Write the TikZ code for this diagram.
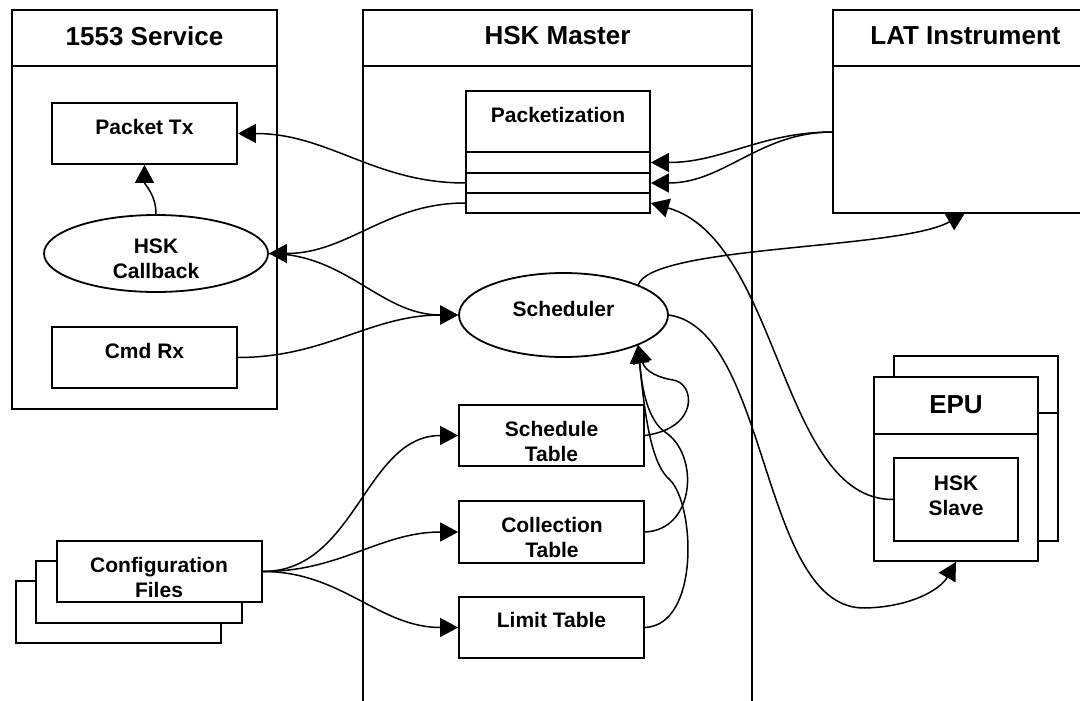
\documentclass[tikz,border=0pt]{standalone}
\usepackage{fontspec}
\setmainfont{Liberation Sans}
\usetikzlibrary{arrows.meta,shapes.geometric}
\begin{document}
\begin{tikzpicture}[x=1pt,y=-1pt,
  box/.style={draw, line width=1.8pt, rectangle, inner sep=0pt, fill=white},
  oval/.style={draw, line width=1.8pt, ellipse, inner sep=0pt, fill=white},
  frame/.style={line width=1.8pt},
  ttl/.style={inner sep=0pt, font=\fontsize{26}{30}\selectfont\bfseries},
  txt/.style={inner sep=0pt, align=center, font=\fontsize{21}{25}\selectfont\bfseries},
  conn/.style={draw, line width=1.5pt, -{Triangle[length=18pt,width=19pt]}}]
\useasboundingbox (0,0) rectangle (1080,701);
\fill[white] (0,0) rectangle (1080,701);

% swimlanes
\node[box, minimum width=265pt, minimum height=399pt] (svc) at (144.5,209.5) {};
\draw[frame] (12,66) -- (277,66);
\draw[frame] (363,712) -- (363,10) -- (752,10) -- (752,712);
\draw[frame] (363,66) -- (752,66);
\node[box, minimum width=265pt, minimum height=203pt] (lat) at (965.5,111.5) {};
\draw[frame] (833,66) -- (1098,66);

\node[ttl, anchor=base] (t-svc) at (144.5,46) {1553 Service};
\node[ttl, anchor=base] (t-hsk) at (557.5,45) {HSK Master};
\node[ttl, anchor=base] (t-lat) at (965.5,45) {LAT Instrument};

% 1553 service content
\node[box, minimum width=185pt, minimum height=61pt] (ptx) at (144.5,133.5) {};
\node[box, minimum width=185pt, minimum height=61pt] (cmd) at (144.5,357.5) {};
\node[oval, minimum width=224pt, minimum height=77pt] (cb) at (156,253.5) {};
\node[txt, anchor=base] (t-ptx) at (144.5,134) {Packet Tx};
\node[txt, anchor=base] (t-cmd) at (144.5,358) {Cmd Rx};
\node[txt] (t-cb) at (156,258.5) {HSK\\Callback};

% HSK master content
\node[box, minimum width=184pt, minimum height=61pt] (pkt) at (558,121.5) {};
\node[box, minimum width=184pt, minimum height=21pt] (row1) at (558,162.5) {};
\node[box, minimum width=184pt, minimum height=20pt] (row2) at (558,183) {};
\node[box, minimum width=184pt, minimum height=20pt] (row3) at (558,203) {};
\node[txt, anchor=base] (t-pkt) at (558,122) {Packetization};
\node[oval, minimum width=209pt, minimum height=84pt] (sched) at (563.5,315) {};
\node[txt, anchor=base] (t-sched) at (563.5,316) {Scheduler};
\node[box, minimum width=185pt, minimum height=61pt] (schedT) at (551.5,435.5) {};
\node[box, minimum width=185pt, minimum height=62pt] (collT) at (551.5,532) {};
\node[box, minimum width=185pt, minimum height=61pt] (limT) at (551.5,627.5) {};
\node[txt] (t-schedT) at (551.5,441.5) {Schedule\\Table};
\node[txt] (t-collT) at (552,537.5) {Collection\\Table};
\node[txt, anchor=base] (t-limT) at (551.5,627) {Limit Table};

% EPU
\node[box, minimum width=164pt, minimum height=185pt] (epuB) at (976,448.5) {};
\draw[frame] (894,413) -- (1058,413);
\node[box, minimum width=164pt, minimum height=184pt] (epu) at (956,469) {};
\draw[frame] (874,434) -- (1038,434);
\node[ttl, anchor=base] (t-epu) at (956,413) {EPU};
\node[box, minimum width=124pt, minimum height=83pt] (slave) at (956,499.5) {};
\node[txt] (t-slave) at (956,496) {HSK\\Slave};

% configuration files
\node[box, minimum width=205pt, minimum height=62pt] (cfg3) at (118.5,612) {};
\node[box, minimum width=206pt, minimum height=62pt] (cfg2) at (139,592) {};
\node[box, minimum width=205pt, minimum height=61pt] (cfg1) at (159.5,571.5) {};
\node[txt] (t-cfg) at (159,577) {Configuration\\Files};

% helper coordinates
\coordinate (latin) at (833,132);
\coordinate (latbot) at (965,213);
\coordinate (schout) at (638,285.5);
\coordinate (schin) at (638,345);

% connectors
\draw[conn] (row2.west) to[out=180,in=0] (ptx.east);
\draw[conn] (row3.west) to[out=180,in=0] (cb.east);
\draw[conn] (cb.north) to[out=90,in=-90] (ptx.south);
\draw[conn] (cb.east) to[out=0,in=180] (sched.west);
\draw[conn] (cmd.east) to[out=0,in=180] (sched.west);
\draw[conn] (latin) to[out=180,in=0] (row1.east);
\draw[conn] (latin) to[out=180,in=0] (row2.east);
\draw[conn] (slave.west) .. controls (780,500) and (780,240) .. (row3.east);
\draw[conn] (schout) .. controls (650,245) and (900,250) .. (latbot);
\draw[conn] (sched.east) .. controls (770,330) and (760,610) .. (865,608)
   .. controls (910,607) and (940,590) .. (epu.south);
\draw[conn] (cfg1.east) to[out=0,in=180] (schedT.west);
\draw[conn] (cfg1.east) to[out=0,in=180] (collT.west);
\draw[conn] (cfg1.east) to[out=0,in=180] (limT.west);
\draw[conn] (schedT.east) .. controls (700,428) and (695,383) .. (673,380)
   .. controls (660,378) and (645,372) .. (schin);
\draw[conn] (collT.east) .. controls (695,530) and (700,455) .. (665,432)
   .. controls (648,420) and (642,390) .. (schin);
\draw[conn] (limT.east) .. controls (700,625) and (695,505) .. (670,480)
   .. controls (652,465) and (645,420) .. (schin);
\end{tikzpicture}
\end{document}
